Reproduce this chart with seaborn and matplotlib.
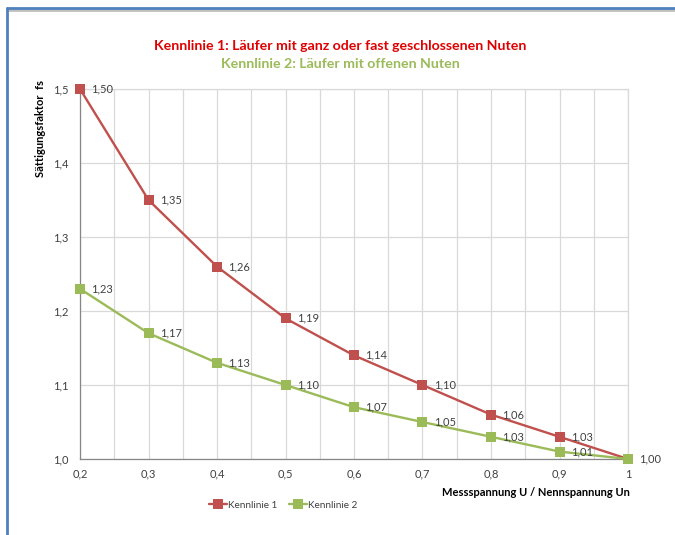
import pandas as pd
import numpy as np
import matplotlib
matplotlib.use('Agg')
import matplotlib.pyplot as plt
import seaborn as sns
from matplotlib.lines import Line2D

# Daten
messspannung = [0.2, 0.3, 0.4, 0.5, 0.6, 0.7, 0.8, 0.9, 1.0]
kennlinie_1 = [1.50, 1.35, 1.26, 1.19, 1.14, 1.10, 1.06, 1.03, 1.00]
kennlinie_2 = [1.23, 1.17, 1.13, 1.10, 1.07, 1.05, 1.03, 1.01, 1.00]
x_ticklabels = ['0,2', '0,3', '0,4', '0,5', '0,6', '0,7', '0,8', '0,9', '1']
y_ticklabels = ['1,0', '1,1', '1,2', '1,3', '1,4', '1,5']

df = pd.DataFrame({
    'U/Un': messspannung * 2,
    'fs': kennlinie_1 + kennlinie_2,
    'Kennlinie': ['Kennlinie 1'] * len(kennlinie_1) + ['Kennlinie 2'] * len(kennlinie_2),
})

sns.set_style('white')
plt.rcParams['font.family'] = ['Lato', 'DejaVu Sans']

rot = '#C0504D'
gruen = '#9BBB59'
text_grau = '#404040'

fig = plt.figure(figsize=(6.75, 5.35), dpi=100)
ax = fig.add_axes([80 / 675, 1 - 459 / 535, 548 / 675, 370 / 535])

sns.lineplot(data=df, x='U/Un', y='fs', hue='Kennlinie', style='Kennlinie',
             markers=['s', 's'], dashes=False, palette=[rot, gruen],
             linewidth=1.7, markersize=7.2, markeredgewidth=0, ax=ax, zorder=3)
for ln in ax.lines:
    ln.set_clip_on(False)

# Datenbeschriftungen (1,00 nur einmal)
beschriftet = set()
for serie in [kennlinie_2, kennlinie_1]:
    for x, y in zip(messspannung, serie):
        if (x, y) in beschriftet:
            continue
        beschriftet.add((x, y))
        ax.annotate(f'{y:.2f}'.replace('.', ','), (x, y), xytext=(8, 0),
                    textcoords='offset points', va='center', ha='left',
                    fontsize=8, color=text_grau, zorder=4)

ax.set_xlim(0.2, 1.0)
ax.set_ylim(1.0, 1.5)
ax.set_xticks(messspannung)
ax.set_xticks(np.arange(0.25, 1.0, 0.1), minor=True)
ax.set_xticklabels(x_ticklabels)
ax.set_yticks([1.0, 1.1, 1.2, 1.3, 1.4, 1.5])
ax.set_yticklabels(y_ticklabels)
ax.grid(True, which='both', axis='x', color='#D9D9D9', linewidth=0.9)
ax.grid(True, which='major', axis='y', color='#D9D9D9', linewidth=0.9)
ax.tick_params(axis='both', which='both', direction='out', length=4, width=0.8,
               color='#868686', labelsize=8, labelcolor=text_grau, pad=4)
ax.tick_params(axis='x', which='both', pad=3)
for s in ['left', 'bottom']:
    ax.spines[s].set_color('#868686')
    ax.spines[s].set_linewidth(0.9)
for s in ['top', 'right']:
    ax.spines[s].set_color('#D9D9D9')
    ax.spines[s].set_linewidth(0.9)
ax.set_xlabel('')
ax.set_ylabel('')

leg = ax.legend(loc='center', bbox_to_anchor=(283 / 675, 1 - 505 / 535),
                bbox_transform=fig.transFigure, ncol=2, frameon=False,
                fontsize=7.2, handlelength=1.8, columnspacing=1.2, handletextpad=0.1)
for t in leg.get_texts():
    t.set_color(text_grau)

# Titel
fig.text(340 / 675, 1 - 46 / 535, 'Kennlinie 1: Läufer mit ganz oder fast geschlossenen Nuten',
         ha='center', va='center', fontsize=10.2, fontweight='bold', color='#E00000')
fig.text(340 / 675, 1 - 64 / 535, 'Kennlinie 2: Läufer mit offenen Nuten',
         ha='center', va='center', fontsize=10.2, fontweight='bold', color=gruen)

fig.text(40 / 675, 1 - 80 / 535, 'Sättigungsfaktor  fs', rotation=90,
         ha='center', va='top', fontsize=8, fontweight='bold', color='black')
fig.text(630 / 675, 1 - 492 / 535, 'Messspannung U / Nennspannung Un',
         ha='right', va='center', fontsize=8, fontweight='bold', color='black')

# blauer Rahmen
fig.add_artist(Line2D([7 / 675, 1.0], [1 - 10 / 535, 1 - 10 / 535],
                      transform=fig.transFigure, color='#BFBFBF', linewidth=2))
fig.add_artist(Line2D([7 / 675, 1.0], [1 - 8 / 535, 1 - 8 / 535],
                      transform=fig.transFigure, color='#4F81BD', linewidth=2))
fig.add_artist(Line2D([7 / 675, 7 / 675], [0, 1 - 8 / 535],
                      transform=fig.transFigure, color='#4F81BD', linewidth=2))

fig.savefig('out.png', dpi=100)
